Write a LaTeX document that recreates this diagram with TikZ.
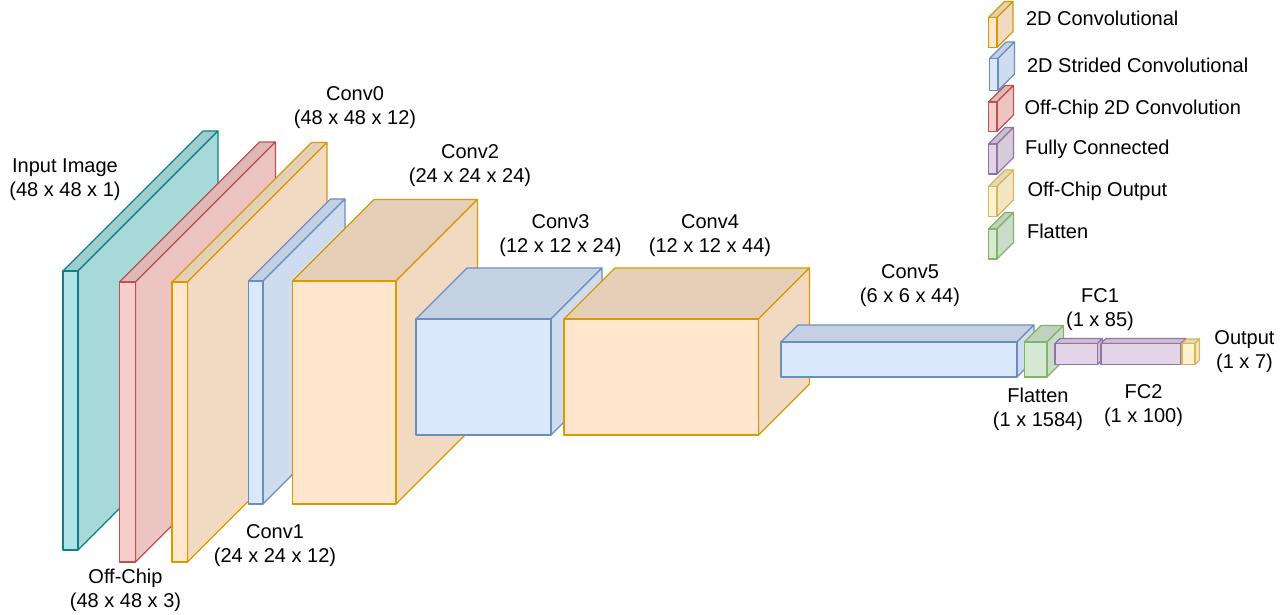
\documentclass[tikz,border=0pt]{standalone}
\usepackage{fontspec}
\setmainfont{Liberation Sans}
\definecolor{tealF}{HTML}{B0E3E6}\definecolor{tealS}{HTML}{0E8088}
\definecolor{redF}{HTML}{F8CECC}\definecolor{redS}{HTML}{B85450}
\definecolor{orgF}{HTML}{FFE6CC}\definecolor{orgS}{HTML}{D79B00}
\definecolor{bluF}{HTML}{DAE8FC}\definecolor{bluS}{HTML}{6C8EBF}
\definecolor{grnF}{HTML}{D5E8D4}\definecolor{grnS}{HTML}{82B366}
\definecolor{purF}{HTML}{E1D5E7}\definecolor{purS}{HTML}{9673A6}
\definecolor{yelF}{HTML}{FFF2CC}\definecolor{yelS}{HTML}{D6B656}
% #1 fill, #2 stroke, #3 x1, #4 y1 (top), #5 x2, #6 y2 (bottom), #7 depth
\newcommand\cuboid[7]{%
  \filldraw[draw=#2, fill=#1!90!black] (#3,#4) -- ({#3+#7},{#4-#7}) -- ({#5+#7},{#4-#7}) -- (#5,#4) -- cycle;
  \filldraw[draw=#2, fill=#1!95!black] (#5,#4) -- ({#5+#7},{#4-#7}) -- ({#5+#7},{#6-#7}) -- (#5,#6) -- cycle;
  \filldraw[draw=#2, fill=#1] (#3,#4) rectangle (#5,#6);
}
\tikzset{
  lbl/.style={align=center, inner sep=0pt, font=\fontsize{20}{24}\selectfont},
  leg/.style={anchor=base west, inner sep=0pt, font=\fontsize{20}{24}\selectfont}
}
\begin{document}
\begin{tikzpicture}[x=1pt, y=-1pt, line width=1.1pt, line join=round]
\useasboundingbox (0,0) rectangle (1285,614);
\fill[white] (0,0) rectangle (1285,614);
% network blocks
\cuboid{tealF}{tealS}{63}{271}{78}{550}{140}
\cuboid{redF}{redS}{119.5}{282}{135.5}{562}{140}
\cuboid{orgF}{orgS}{172}{282}{187.5}{562}{139.5}
\cuboid{bluF}{bluS}{248.5}{281}{263}{504}{82}
\cuboid{orgF}{orgS}{292.5}{281}{396}{504}{81.5}
\cuboid{bluF}{bluS}{416}{319}{551}{435}{51}
\cuboid{orgF}{orgS}{564}{319}{758.5}{435}{51}
\cuboid{bluF}{bluS}{781}{342}{1017}{377}{17}
\cuboid{grnF}{grnS}{1024.5}{342}{1047}{377}{16.5}
\cuboid{purF}{purS}{1055}{343.5}{1097.5}{364.5}{5}
\cuboid{purF}{purS}{1101}{343.5}{1181}{364.5}{5}
\cuboid{yelF}{yelS}{1182}{343.5}{1195}{364.5}{4.5}
% labels
\node[lbl] (linput) at (65,180) {Input Image\\(48 x 48 x 1)};
\node[lbl] (loff) at (125.5,590) {Off-Chip\\(48 x 48 x 3)};
\node[lbl] (lc0) at (355,108) {Conv0\\(48 x 48 x 12)};
\node[lbl] (lc1) at (275,546) {Conv1\\(24 x 24 x 12)};
\node[lbl] (lc2) at (470,166) {Conv2\\(24 x 24 x 24)};
\node[lbl] (lc3) at (560.5,236) {Conv3\\(12 x 12 x 24)};
\node[lbl] (lc4) at (710,236) {Conv4\\(12 x 12 x 44)};
\node[lbl] (lc5) at (910,286) {Conv5\\(6 x 6 x 44)};
\node[lbl] (lfc1) at (1100,310) {FC1\\(1 x 85)};
\node[lbl] (lout) at (1244.5,352) {Output\\(1 x 7)};
\node[lbl] (lflat) at (1038,409.5) {Flatten\\(1 x 1584)};
\node[lbl] (lfc2) at (1143.5,406) {FC2\\(1 x 100)};
% legend
\cuboid{orgF}{orgS}{988.5}{17.5}{997}{47.5}{16}
\cuboid{bluF}{bluS}{989.5}{58.5}{998}{90.5}{16.5}
\cuboid{redF}{redS}{988.5}{102}{997}{131.5}{16.5}
\cuboid{purF}{purS}{988.5}{144}{997}{174}{16.5}
\cuboid{yelF}{yelS}{988.5}{186.5}{997}{216.5}{16.5}
\cuboid{grnF}{grnS}{988.5}{229}{997}{259}{16.5}
\node[leg] (g1) at (1025.5,25.5) {2D Convolutional};
\node[leg] (g2) at (1026.5,72) {2D Strided Convolutional};
\node[leg] (g3) at (1024,114.7) {Off-Chip 2D Convolution};
\node[leg] (g4) at (1024.5,154.7) {Fully Connected};
\node[leg] (g5) at (1027,196.2) {Off-Chip Output};
\node[leg] (g6) at (1026.5,238.2) {Flatten};
\end{tikzpicture}
\end{document}
